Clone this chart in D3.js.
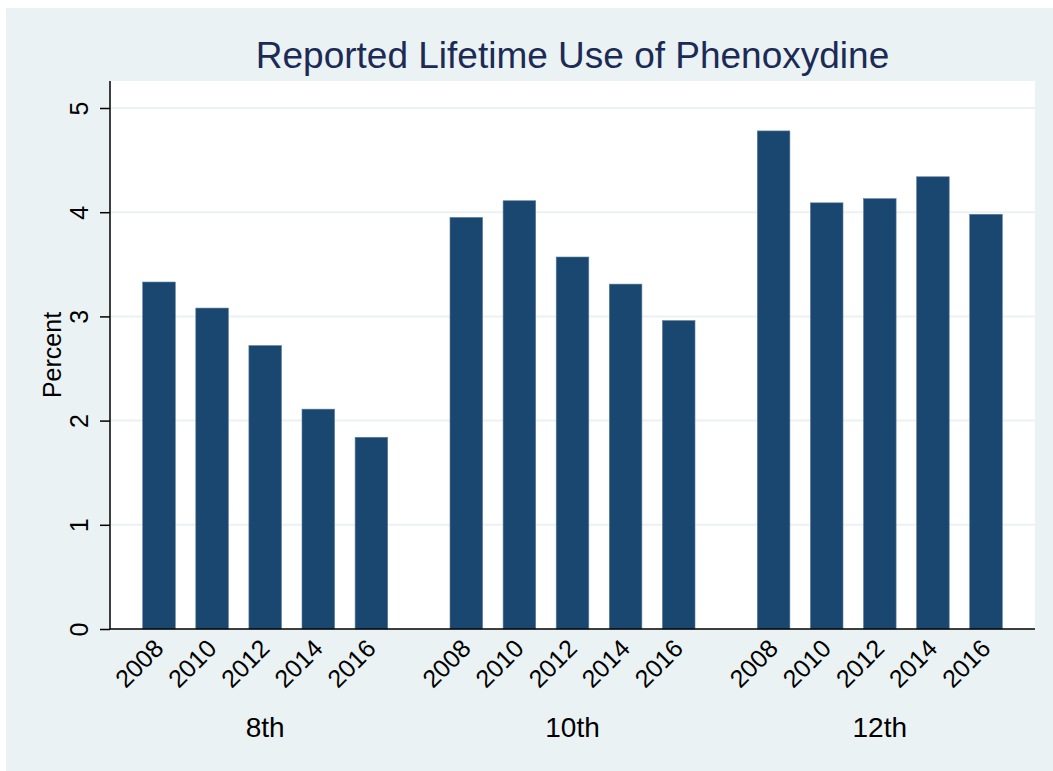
<!DOCTYPE html>
<html>
<head>
<meta charset="utf-8">
<script src="https://cdn.jsdelivr.net/npm/d3@7"></script>
<style>
  html, body { margin: 0; padding: 0; background: #ffffff; }
  svg { display: block; font-family: "Liberation Sans", Arial, Helvetica, sans-serif; }
</style>
</head>
<body>
<svg id="chart" width="1053" height="771"></svg>
<script>
// ---- data ----
const title = "Reported Lifetime Use of Phenoxydine";
const yTitle = "Percent";
const grades = ["8th", "10th", "12th"];
const years = ["2008", "2010", "2012", "2014", "2016"];
const values8th  = [3.33, 3.08, 2.72, 2.11, 1.84];
const values10th = [3.95, 4.11, 3.57, 3.31, 2.96];
const values12th = [4.78, 4.09, 4.13, 4.34, 3.98];
const yTicks = [0, 1, 2, 3, 4, 5];

const seriesByGrade = { "8th": values8th, "10th": values10th, "12th": values12th };
const rows = [];
grades.forEach(g => years.forEach((y, i) => rows.push({ grade: g, year: y, value: seriesByGrade[g][i] })));

// ---- layout ----
const W = 1053, H = 771;
const plot = { left: 110, right: 1035, top: 81, bottom: 629 };
const svg = d3.select("#chart");

// graph region background
svg.append("rect").attr("x", 6).attr("y", 8).attr("width", W - 6).attr("height", H - 8)
  .attr("fill", "#eaf2f3");
// plot region
svg.append("rect").attr("x", plot.left).attr("y", plot.top)
  .attr("width", plot.right - plot.left).attr("height", plot.bottom - plot.top)
  .attr("fill", "#ffffff");

const y = d3.scaleLinear().domain([0, 5]).range([plot.bottom, 108]);

const xGroup = d3.scaleBand().domain(grades).range([plot.left, plot.right])
  .paddingInner(0.2027).paddingOuter(0.1064);
const xYear = d3.scaleBand().domain(years).range([0, xGroup.bandwidth()])
  .paddingInner(0.386).paddingOuter(0);

// gridlines
svg.append("g").selectAll("line").data(yTicks.filter(t => t > 0)).join("line")
  .attr("x1", plot.left).attr("x2", plot.right)
  .attr("y1", d => y(d)).attr("y2", d => y(d))
  .attr("stroke", "#eaf2f3").attr("stroke-width", 2);

// bars
svg.append("g").selectAll("rect").data(rows).join("rect")
  .attr("x", d => xGroup(d.grade) + xYear(d.year))
  .attr("width", xYear.bandwidth())
  .attr("y", d => y(d.value))
  .attr("height", d => y(0) - y(d.value))
  .attr("fill", "#1a476f")
  .attr("stroke", "#5f7f9e").attr("stroke-width", 0.6);

// y axis
const yAxis = d3.axisLeft(y).tickValues(yTicks).tickSize(10).tickFormat(d3.format("d"));
const gy = svg.append("g").attr("transform", `translate(${plot.left},0)`).call(yAxis);
gy.select(".domain").attr("d", `M-0,${plot.top}V${plot.bottom}`).attr("stroke", "#000").attr("stroke-width", 1.5);
gy.selectAll(".tick line").attr("stroke", "#000").attr("stroke-width", 1.5);
gy.selectAll(".tick text")
  .attr("x", null).attr("dy", null)
  .attr("transform", "translate(-22,0) rotate(-90)")
  .attr("text-anchor", "middle")
  .attr("font-size", 25).attr("fill", "#000");

// x axis line
svg.append("line").attr("x1", plot.left).attr("x2", plot.right)
  .attr("y1", plot.bottom).attr("y2", plot.bottom)
  .attr("stroke", "#000").attr("stroke-width", 1.5);

// year labels
svg.append("g").selectAll("text").data(rows).join("text")
  .attr("transform", d => {
    const cx = xGroup(d.grade) + xYear(d.year) + xYear.bandwidth() / 2;
    return `translate(${cx + 6},${plot.bottom + 21}) rotate(-45)`;
  })
  .attr("text-anchor", "end")
  .attr("font-size", 25).attr("fill", "#000")
  .text(d => d.year);

// group labels
svg.append("g").selectAll("text").data(grades).join("text")
  .attr("x", d => xGroup(d) + xGroup.bandwidth() / 2)
  .attr("y", 737)
  .attr("text-anchor", "middle")
  .attr("font-size", 28).attr("fill", "#000")
  .text(d => d);

// y title
svg.append("text").attr("transform", "translate(61,355) rotate(-90)")
  .attr("text-anchor", "middle").attr("font-size", 25).attr("fill", "#000")
  .text(yTitle);

// title
svg.append("text").attr("x", (plot.left + plot.right) / 2).attr("y", 68)
  .attr("text-anchor", "middle").attr("font-size", 37).attr("fill", "#1c2a56")
  .text(title);
</script>
</body>
</html>
